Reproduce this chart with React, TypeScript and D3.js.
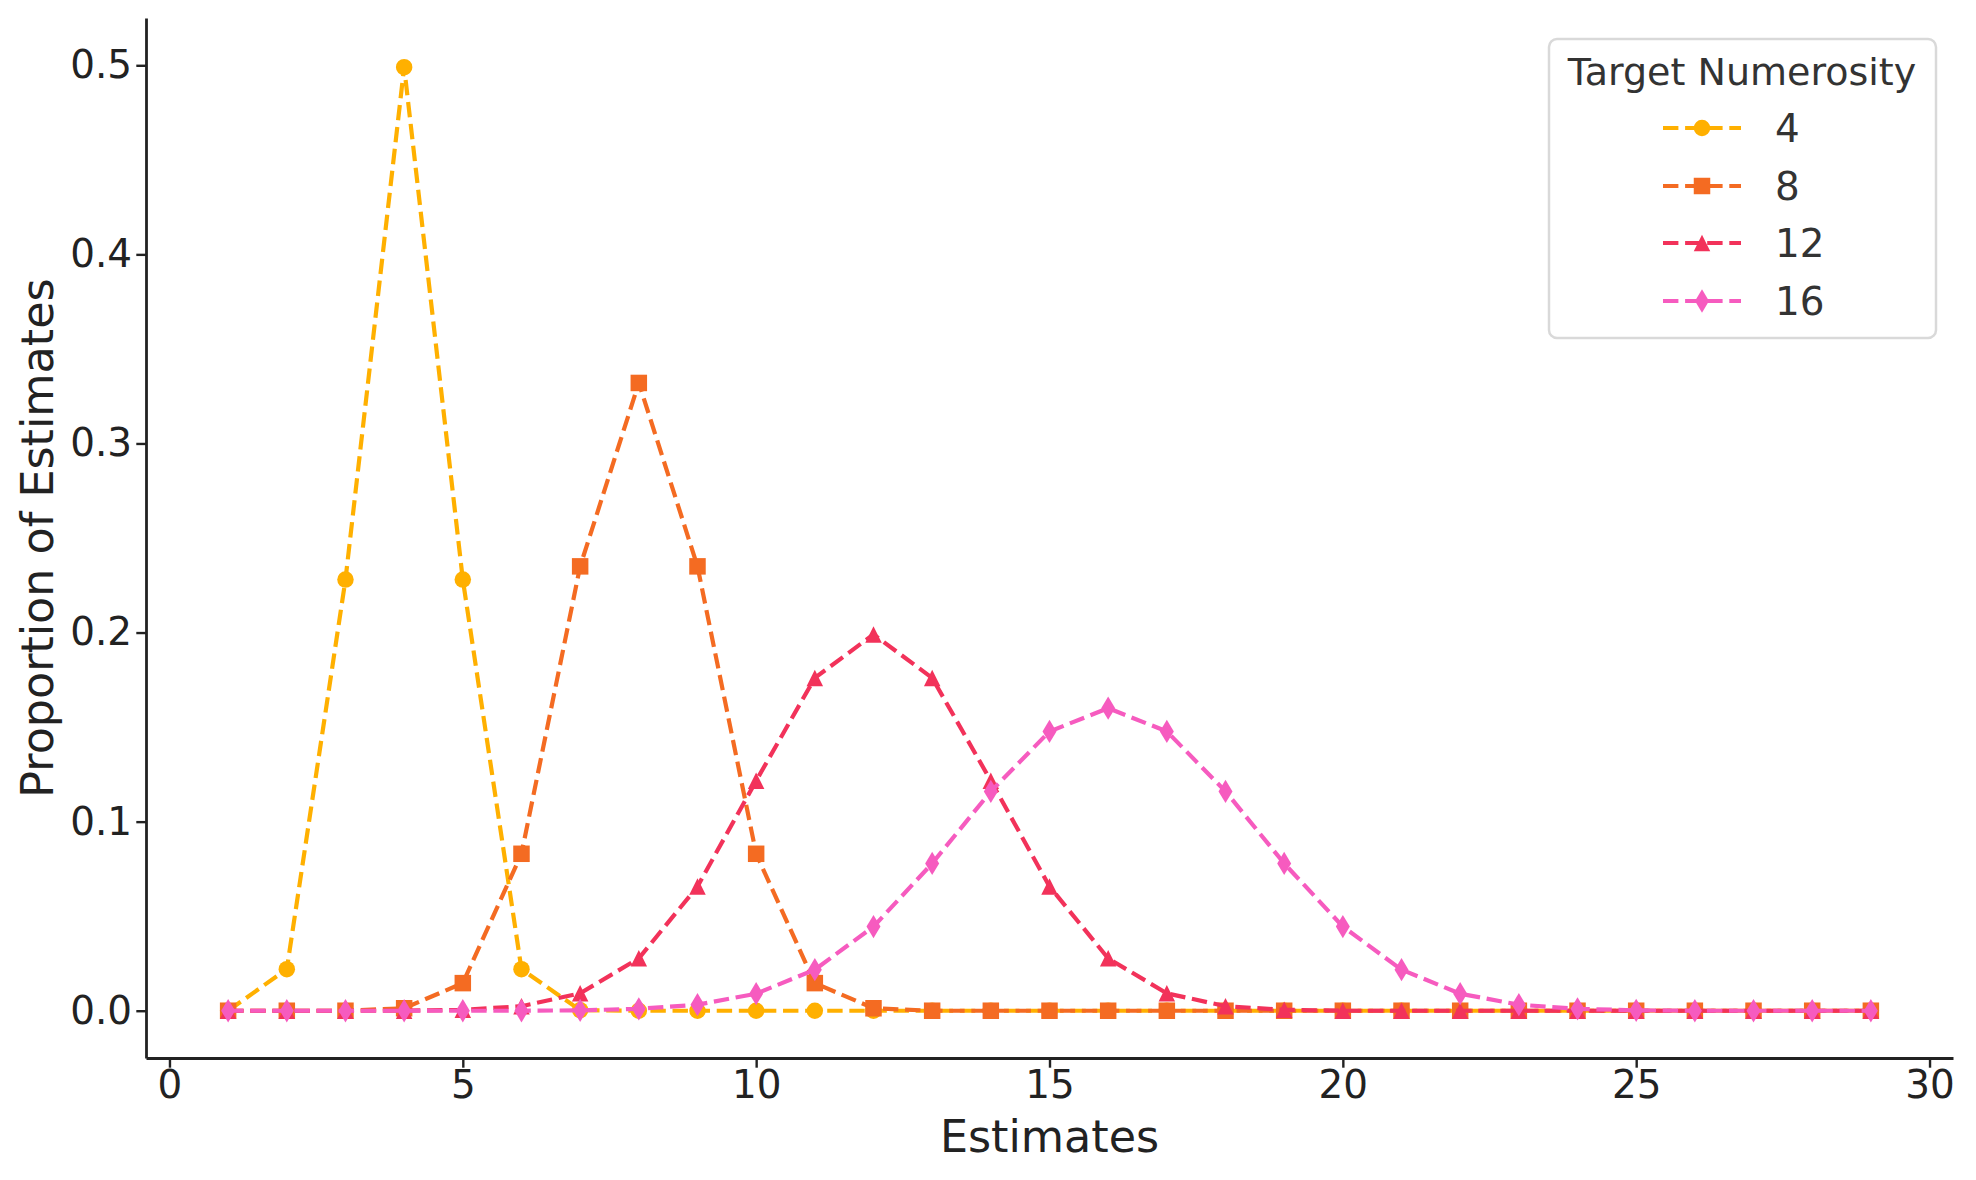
import { useRef, useEffect } from "react";
import * as d3 from "d3";

// x values (estimates) and proportions
const estimates = [1, 2, 3, 4, 5, 6, 7, 8, 9, 10, 11, 12, 13, 14, 15, 16, 17, 18, 19, 20, 21, 22, 23, 24, 25, 26, 27, 28, 29];
const target4 = [0, 0.022, 0.228, 0.499, 0.228, 0.022, 0.0003, 0, 0, 0, 0, 0, 0, 0, 0, 0, 0, 0, 0, 0, 0, 0, 0, 0, 0, 0, 0, 0, 0];
const target8 = [0, 0, 0, 0.0013, 0.0146, 0.083, 0.235, 0.332, 0.235, 0.083, 0.0146, 0.0013, 0, 0, 0, 0, 0, 0, 0, 0, 0, 0, 0, 0, 0, 0, 0, 0, 0];
const target12 = [0, 0, 0, 0, 0.0005, 0.0024, 0.0092, 0.0277, 0.0657, 0.1216, 0.176, 0.199, 0.176, 0.1216, 0.0657, 0.0277, 0.0092, 0.0024, 0.0005, 0, 0, 0, 0, 0, 0, 0, 0, 0, 0];
const target16 = [0, 0, 0, 0, 0, 0, 0.0002, 0.001, 0.0032, 0.009, 0.0217, 0.0445, 0.0779, 0.116, 0.1477, 0.16, 0.1477, 0.116, 0.0779, 0.0445, 0.0217, 0.009, 0.0032, 0.001, 0.0002, 0, 0, 0, 0];

const seriesNames = ["4", "8", "12", "16"];
const seriesValues = [target4, target8, target12, target16];
const seriesColors = ["#ffb000", "#f46b22", "#f2325a", "#f65bbf"];
const seriesMarkers = ["circle", "square", "triangle", "thinDiamond"];

const xTicks = [0, 5, 10, 15, 20, 25, 30];
const yTicks = [0, 0.1, 0.2, 0.3, 0.4, 0.5];

const W = 1976;
const H = 1180;
const left = 146, right = 1953, top = 18, bottom = 1058;
const font = "DejaVu Sans";
const ms = 16.5;

const markerPath = (kind: string, cx: number, cy: number) => {
     const h = ms / 2;
     if (kind === "circle") {
          return `M${cx - h},${cy}a${h},${h} 0 1,0 ${ms},0a${h},${h} 0 1,0 ${-ms},0Z`;
     }
     if (kind === "square") {
          return `M${cx - h},${cy - h}h${ms}v${ms}h${-ms}Z`;
     }
     if (kind === "triangle") {
          return `M${cx},${cy - h}L${cx + h},${cy + h}L${cx - h},${cy + h}Z`;
     }
     // matplotlib thin diamond 'd'
     const dh = ms * 0.707;
     const dw = dh * 0.6;
     return `M${cx},${cy - dh}L${cx + dw},${cy}L${cx},${cy + dh}L${cx - dw},${cy}Z`;
};

export default function App() {
     const xRef = useRef<SVGGElement | null>(null);
     const yRef = useRef<SVGGElement | null>(null);

     const xScale = d3.scaleLinear().domain([-0.4, 30.4]).range([left, right]);
     const yScale = d3.scaleLinear().domain([-0.025, 0.525]).range([bottom, top]);

     useEffect(() => {
          const xAxis = d3.axisBottom(xScale)
               .tickValues(xTicks)
               .tickFormat(d => `${d}`)
               .tickSize(9.7)
               .tickSizeOuter(0)
               .tickPadding(2.3);
          const yAxis = d3.axisLeft(yScale)
               .tickValues(yTicks)
               .tickFormat(d3.format(".1f"))
               .tickSize(9.7)
               .tickSizeOuter(0)
               .tickPadding(4.3);

          const gx = d3.select(xRef.current!);
          gx.call(xAxis as any);
          const gy = d3.select(yRef.current!);
          gy.call(yAxis as any);

          [gx, gy].forEach(g => {
               g.attr("font-family", font).attr("font-size", 38.9);
               g.select(".domain").attr("stroke", "#222").attr("stroke-width", 2.8);
               g.selectAll(".tick line").attr("stroke", "#222").attr("stroke-width", 2.4);
               g.selectAll(".tick text").attr("fill", "#222");
          });
     }, []);

     const line = d3.line<number>()
          .x((_, i) => xScale(estimates[i]))
          .y(d => yScale(d));

     const legendRows = [128, 186, 243, 301];

     return (
          <svg width={W} height={H} style={{ position: "absolute", left: 0, top: 0, background: "#fff" }}>
               <rect width={W} height={H} fill="#fff" />
               {seriesValues.map((vals, si) => (
                    <g key={seriesNames[si]}>
                         <path
                              d={line(vals) || ""}
                              fill="none"
                              stroke={seriesColors[si]}
                              strokeWidth={4.2}
                              strokeDasharray="15.4 6.7"
                         />
                         {vals.map((v, i) => (
                              <path
                                   key={i}
                                   d={markerPath(seriesMarkers[si], xScale(estimates[i]), yScale(v))}
                                   fill={seriesColors[si]}
                              />
                         ))}
                    </g>
               ))}

               <g ref={xRef} transform={`translate(0,${bottom})`} />
               <g ref={yRef} transform={`translate(${left},0)`} />

               <text x={(left + right) / 2} y={1152} textAnchor="middle" fontFamily={font} fontSize={44.4} fill="#222">
                    Estimates
               </text>
               <text
                    transform={`translate(53,${(top + bottom) / 2}) rotate(-90)`}
                    textAnchor="middle"
                    fontFamily={font}
                    fontSize={44.4}
                    fill="#222"
               >
                    Proportion of Estimates
               </text>

               {/* legend */}
               <g fontFamily={font}>
                    <rect x={1549} y={39} width={387} height={299} rx={8} fill="#fff" fillOpacity={0.8} stroke="#d9d9d9" strokeWidth={2.5} />
                    <text x={1742} y={85} textAnchor="middle" fontSize={38} fill="#333">
                         Target Numerosity
                    </text>
                    {seriesNames.map((name, si) => (
                         <g key={name}>
                              <line
                                   x1={1663}
                                   x2={1741}
                                   y1={legendRows[si]}
                                   y2={legendRows[si]}
                                   stroke={seriesColors[si]}
                                   strokeWidth={4.2}
                                   strokeDasharray="15.4 6.7"
                              />
                              <path d={markerPath(seriesMarkers[si], 1702, legendRows[si])} fill={seriesColors[si]} />
                              <text x={1775} y={legendRows[si]} dy="0.36em" fontSize={38.9} fill="#333">
                                   {name}
                              </text>
                         </g>
                    ))}
               </g>
          </svg>
     );
}
